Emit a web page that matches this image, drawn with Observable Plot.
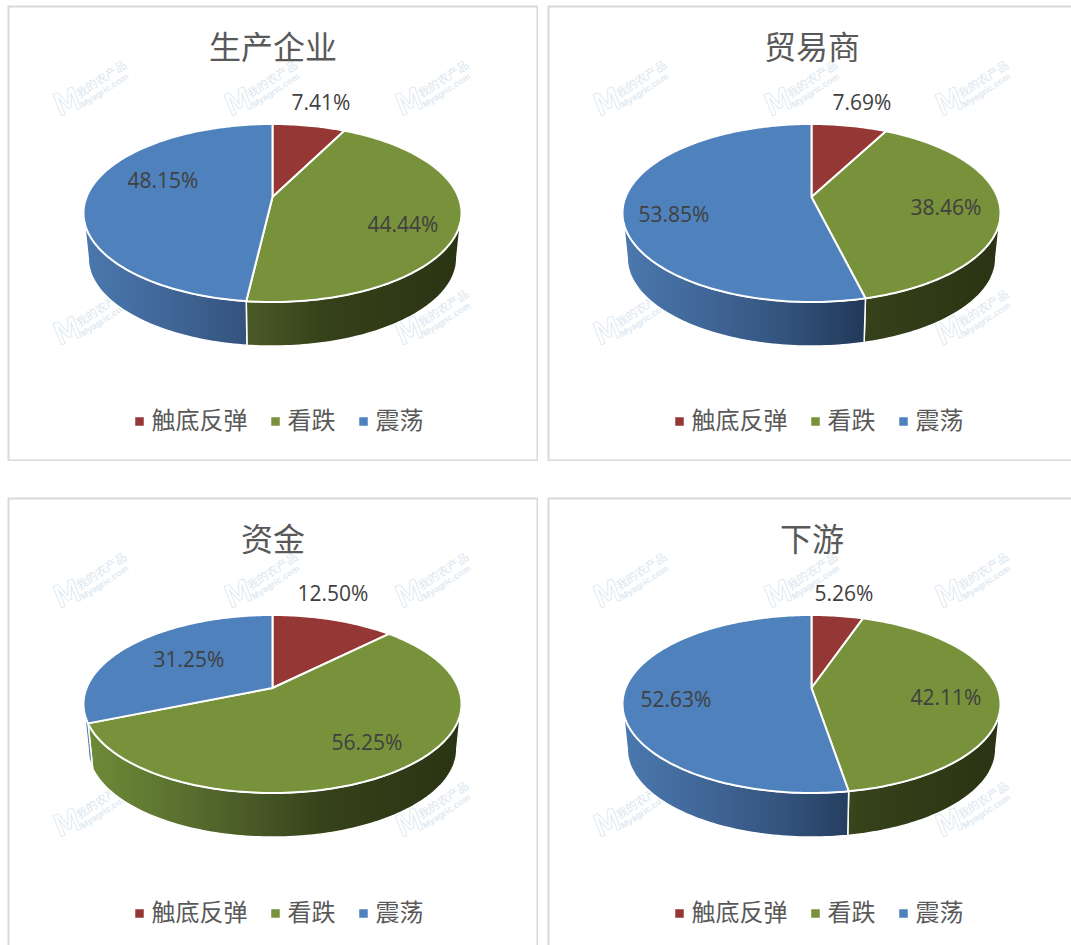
<!DOCTYPE html>
<html><head><meta charset="utf-8">
<script src="https://cdn.jsdelivr.net/npm/d3@7"></script>
<script src="https://cdn.jsdelivr.net/npm/@observablehq/plot@0.6"></script>
<style>
html,body{margin:0;background:#fff;width:1071px;height:945px;overflow:hidden}
#c{position:relative;width:1071px;height:945px;overflow:hidden}
#c svg{position:absolute;overflow:hidden}
</style>
</head><body><div id="c"></div>
<script>
const titles = ["生产企业","贸易商","资金","下游"];
const categories = ["触底反弹","看跌","震荡"];
const producerValues = [7.41,44.44,48.15];
const traderValues = [7.69,38.46,53.85];
const fundValues = [12.5,56.25,31.25];
const downstreamValues = [5.26,42.11,52.63];
const seriesValues = [producerValues,traderValues,fundValues,downstreamValues];
const valueLabels = [
  ["7.41%","44.44%","48.15%"],
  ["7.69%","38.46%","53.85%"],
  ["12.50%","56.25%","31.25%"],
  ["5.26%","42.11%","52.63%"]
];
const colors = ["#953735","#77923b","#4f81bd"];

// layout, in pixels of each panel
const panelLeft = [7,547,7,547], panelTop = [5,5,497,497];
const panelW = 531, panelH = 456;
const centerX = [265.5,264.5,265.5,264.5], centerY = [208,208,207,207];
const RX = 189, RY = 89;
const tilt = 0.18;              // perspective shift of the pie's apex
const lowerScaleX = 0.975, lowerScaleY = 0.99, lowerDrop = 45 / RY;
const labelPlaces = [
  [[48,98],[130,220],[-110,176]],
  [[50,98],[134,203],[-138,210]],
  [[60,97],[94,246],[-84,163]],
  [[32,97],[134,201],[-136,203]]
];
const legendX = [132,268,356], legendTextX = [144,280,368], legendY = 416;
const markX = [60,231,402], markY = [[97,0],[326,1]];

// a pie angle on the tilted disc, in pie radii (apex above ellipse centre)
function disc(angle) {
  const s = Math.sin(angle), c = Math.cos(angle), k = 1 + tilt * c;
  return [s * Math.sqrt(1 - tilt * tilt) / k, (c + tilt) / k];
}

function panel(t) {
  const vals = seriesValues[t];
  const ux = (p) => (p - centerX[t]) / RX;
  const uy = (p) => (centerY[t] - p) / RY;
  const total = d3.sum(vals);
  let acc = 0;
  const wedgePts = [], sideMarks = [];
  const visA = Math.acos(-tilt), visB = 2 * Math.PI - visA;
  vals.forEach((v, i) => {
    const a0 = acc, a1 = acc + v / total * 2 * Math.PI;
    acc = a1;
    const n = Math.ceil((a1 - a0) * 50);
    d3.range(n + 1).forEach((k) => {
      const [x, y] = disc(a0 + (a1 - a0) * k / n);
      wedgePts.push({category: categories[i], x1: 0, y1: tilt, x2: x, y2: y});
    });
    const s = Math.max(a0, visA), e = Math.min(a1, visB);
    if (e > s) {
      const m = Math.ceil((e - s) * 50);
      const pts = d3.range(m + 1).map((k) => {
        const [x, y] = disc(s + (e - s) * k / m);
        return {x1: x, y1: y, x2: x * lowerScaleX, y2: y * lowerScaleY - lowerDrop};
      });
      sideMarks.push(Plot.area(pts, {x1:"x1",y1:"y1",x2:"x2",y2:"y2",fill:`url(#side${i}-${t})`,stroke:"#fff",strokeWidth:1.5}));
    }
  });
  const gradients = () => {
    const ns = "http://www.w3.org/2000/svg";
    const defs = document.createElementNS(ns, "defs");
    const stops = [
      ["#953735","#8a3230","#7d2c2a","#6d2826","#4d1c1a"],
      ["#6f8c38","#5f7731","#4b5c28","#36421a","#2a3313"],
      ["#4a78ae","#42689a","#34547e","#233a5b","#1b2e4c"]
    ];
    stops.forEach((st, i) => {
      const l = document.createElementNS(ns, "linearGradient");
      l.setAttribute("id", `side${i}-${t}`);
      l.setAttribute("gradientUnits", "userSpaceOnUse");
      l.setAttribute("x1", centerX[t] - RX); l.setAttribute("x2", centerX[t] + RX);
      l.setAttribute("y1", 0); l.setAttribute("y2", 0);
      [0, .2, .42, .63, 1].forEach((o, j) => {
        const s = document.createElementNS(ns, "stop");
        s.setAttribute("offset", o); s.setAttribute("stop-color", st[j]);
        l.appendChild(s);
      });
      defs.appendChild(l);
    });
    return defs;
  };
  const wm = [];
  markY.forEach(([my, row]) => markX.forEach((mx, j) => {
    if (row === 1 && j === 1) return;
    wm.push({x: ux(mx), y: uy(my),
      tx: ux(mx + 34), ty: uy(my - 23),
      sx: ux(mx + 37), sy: uy(my - 12)});
  }));
  const cjk = "'Noto Sans CJK SC',sans-serif";
  const legend = categories.map((c, i) => ({c, x: ux(legendX[i]), tx: ux(legendTextX[i]), y: uy(legendY)}));
  const labels = valueLabels[t].map((text, i) => ({text, x: labelPlaces[t][i][0] / RX, y: uy(labelPlaces[t][i][1])}));
  const chart = Plot.plot({
    width: panelW, height: panelH, margin: 0,
    x: {domain: [ux(0), ux(panelW)], axis: null},
    y: {domain: [uy(panelH), uy(0)], axis: null},
    color: {domain: categories, range: colors},
    marks: [
      gradients,
      Plot.frame({stroke: "#d9d9d9", strokeWidth: 2, inset: 1}),
      Plot.text(wm, {x:"x", y:"y", text:()=>"M", rotate:-22, fontSize:30, fill:"#fff", stroke:"#d6e4ee", strokeWidth:1.6, fontFamily:"'DejaVu Sans',sans-serif"}),
      Plot.text(wm, {x:"tx", y:"ty", text:()=>"我的农产品", rotate:-33, fontSize:11.5, fill:"#dbe6ef", fontFamily:cjk}),
      Plot.text(wm, {x:"sx", y:"sy", text:()=>"Myagric.com", rotate:-33, fontSize:9, fill:"#e0e9f1", fontFamily:"'Liberation Sans',sans-serif", fontWeight:"bold"}),
      ...sideMarks,
      Plot.area(wedgePts, {x1:"x1",y1:"y1",x2:"x2",y2:"y2",fill:"category",z:"category",stroke:"#fff",strokeWidth:2}),
      Plot.text([titles[t]], {x:[0], y:[uy(43)], text:d=>d, fontSize:32, fill:"#595959", fontFamily:cjk}),
      Plot.text(labels, {x:"x", y:"y", text:"text", fontSize:21, fill:"#404040", fontFamily:"'Open Sans',sans-serif"}),
      Plot.dot(legend, {x:"x", y:"y", fill:"c", r:4.8, symbol:"square"}),
      Plot.text(legend, {x:"tx", y:"y", text:"c", textAnchor:"start", fontSize:24, fill:"#595959", fontFamily:cjk})
    ]
  });
  chart.style.left = panelLeft[t] + "px";
  chart.style.top = panelTop[t] + "px";
  return chart;
}
const host = document.getElementById("c");
seriesValues.forEach((_, t) => host.append(panel(t)));
</script></body></html>
